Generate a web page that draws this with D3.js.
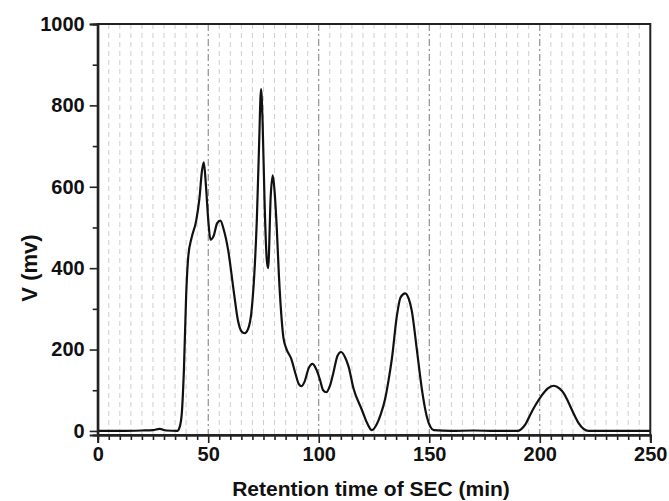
<!DOCTYPE html>
<html>
<head>
<meta charset="utf-8">
<script src="https://cdn.jsdelivr.net/npm/d3@7"></script>
<style>
  body { margin: 0; background: #fff; }
  svg text { font-family: "Liberation Sans", Arial, sans-serif; font-weight: bold; }
</style>
</head>
<body>
<div id="chart"></div>
<script>
// retention time (min) and detector signal (mv)
var times = [0, 10, 20, 25, 28, 31, 36, 37, 38, 39, 40, 41, 42.5, 44.5, 46, 47.2, 48, 49, 50, 51,
  52.5, 54, 55.5, 57, 59, 61.5, 63.5, 65, 66.5, 68, 69.5, 70.8, 72, 73, 73.9, 74.6, 75.5, 76.5, 77.1,
  78.3, 79.2, 80, 81, 82, 83, 84, 85.5, 87.5, 89.5, 91, 92.2, 93.5, 95.5, 97.2, 99, 100.6, 102, 103.4,
  105, 106.5, 108.5, 110.1, 112, 113.5, 115.7, 119.5, 122, 124, 126.3, 128, 130, 131.6, 133.1, 135.3,
  137, 139.1, 140.7, 142.1, 144.4, 146.7, 148.9, 150.5, 152, 160, 170, 180, 190, 191.5, 193.5, 195.7, 198, 201,
  203.5, 206.3, 209, 210.8, 213, 215.3, 217.5, 219.8, 222, 235, 250];
var volts = [0, 0, 1, 2, 5, 1, 0, 8, 40, 150, 330, 430, 475, 515, 570, 640, 660, 600, 520, 470,
  480, 510, 517, 495, 445, 345, 270, 245, 240, 250, 290, 380, 520, 700, 840, 760, 560, 420, 400,
  580, 628, 590, 500, 380, 290, 230, 200, 178, 140, 115, 110, 120, 155, 165, 150, 125, 100, 95,
  110, 140, 185, 194, 180, 158, 105, 52, 18, 2, 17, 40, 78, 125, 178, 281,
  328, 338, 325, 295, 199, 101, 35, 10, 2, 0, 1, 0, 0, 4, 16, 40, 63, 88,
  104, 111, 104, 93, 70, 43, 20, 5, 0, 0, 0];

var xMajor = [0, 50, 100, 150, 200, 250];
var yMajor = [0, 200, 400, 600, 800, 1000];

var width = 669, height = 501;
var mLeft = 97.7, mRight = 650.3, mTop = 24, mBottom = 435;

var svg = d3.select("#chart").append("svg")
    .attr("width", width)
    .attr("height", height);

var x = d3.scaleLinear().domain([0, 250]).range([mLeft, mRight]);
var y = d3.scaleLinear().domain([-10, 1000]).range([mBottom, mTop]);

var xMinor = d3.range(0, 251, 5).filter(function(d) { return d % 50 !== 0; });
var yMinor = d3.range(100, 1000, 200);

// vertical grid, light dashes every 5 min, dash-dot on the majors
svg.append("g").selectAll("line")
    .data(xMinor)
    .enter().append("line")
    .attr("x1", function(d) { return x(d); })
    .attr("x2", function(d) { return x(d); })
    .attr("y1", mTop)
    .attr("y2", mBottom)
    .attr("stroke", "#cfcfcf")
    .attr("stroke-width", 1)
    .attr("stroke-dasharray", "5,4");

svg.append("g").selectAll("line")
    .data(xMajor.slice(1, -1))
    .enter().append("line")
    .attr("x1", function(d) { return x(d); })
    .attr("x2", function(d) { return x(d); })
    .attr("y1", mTop)
    .attr("y2", mBottom)
    .attr("stroke", "#7a7a7a")
    .attr("stroke-width", 1)
    .attr("stroke-dasharray", "7,3,2,3");

// trace
var pts = times.map(function(t, i) { return [t, volts[i]]; });
var line = d3.line()
    .x(function(d) { return x(d[0]); })
    .y(function(d) { return y(d[1]); })
    .curve(d3.curveMonotoneX);

svg.append("path")
    .datum(pts)
    .attr("d", line)
    .attr("fill", "none")
    .attr("stroke", "#111")
    .attr("stroke-width", 2.2)
    .attr("stroke-linejoin", "round");

// frame
svg.append("rect")
    .attr("x", mLeft)
    .attr("y", mTop)
    .attr("width", mRight - mLeft)
    .attr("height", mBottom - mTop)
    .attr("fill", "none")
    .attr("stroke", "#222")
    .attr("stroke-width", 2);

// axes
svg.append("g")
    .attr("transform", "translate(0," + mBottom + ")")
    .call(d3.axisBottom(x).tickValues(xMajor).tickSize(8).tickPadding(4).tickFormat(d3.format("d")));
svg.append("g")
    .attr("transform", "translate(0," + mBottom + ")")
    .call(d3.axisBottom(x).tickValues(xMinor).tickSize(5).tickFormat(""));

svg.append("g")
    .attr("transform", "translate(" + mLeft + ",0)")
    .call(d3.axisLeft(y).tickValues(yMajor).tickSize(8).tickPadding(5).tickFormat(d3.format("d")));
svg.append("g")
    .attr("transform", "translate(" + mLeft + ",0)")
    .call(d3.axisLeft(y).tickValues(yMinor).tickSize(5).tickFormat(""));

svg.selectAll(".domain").attr("stroke", "#222").attr("stroke-width", 2);
svg.selectAll(".tick line").attr("stroke", "#222").attr("stroke-width", 1.6);
svg.selectAll(".tick text")
    .attr("fill", "#111")
    .style("font-size", "20px")
    .style("font-family", "'Liberation Sans', Arial, sans-serif")
    .style("font-weight", "bold");

// titles
svg.append("text")
    .attr("x", 371)
    .attr("y", 496)
    .attr("text-anchor", "middle")
    .style("font-size", "21px")
    .attr("fill", "#111")
    .text("Retention time of SEC (min)");

svg.append("text")
    .attr("transform", "translate(37,268) rotate(-90)")
    .attr("text-anchor", "middle")
    .style("font-size", "22px")
    .attr("fill", "#111")
    .text("V (mv)");
</script>
</body>
</html>
